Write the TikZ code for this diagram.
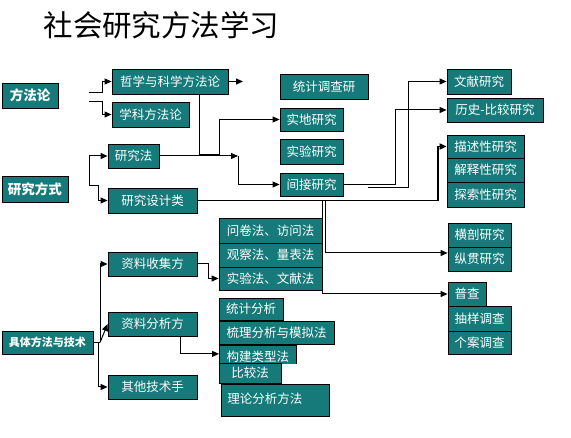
\documentclass[tikz,border=0pt]{standalone}
\usepackage{fontspec}
\setmainfont{Noto Sans CJK SC}
\usetikzlibrary{arrows.meta}
\definecolor{teal1}{RGB}{22,122,122}
\tikzset{
  bx/.style={draw=black, line width=0.8pt, fill=teal1, text=white, inner sep=0pt,
    font=\fontsize{12.5}{14}\selectfont},
  hd/.style={bx, font=\fontsize{13.5}{15}\selectfont\bfseries},
  arr/.style={line width=1pt, -{Triangle[length=7pt,width=6pt]}},
  ln/.style={line width=1pt},
}
\newcommand{\bxat}[6]{\node[#1, minimum width=#4pt, minimum height=#5pt] (#2) at (#3) {#6};}
\begin{document}
\begin{tikzpicture}[x=1pt,y=-1pt]
\useasboundingbox (0,0) rectangle (571,438);
\node[font=\fontsize{29.5}{31}\selectfont] (title) at (161.5,25) {社会研究方法学习};
% left column
\bxat{hd}{ff}{30,95.5}{56}{25}{方法论}
\bxat{hd}{yjfs}{35,189}{66}{26}{研究方式}
\node[hd, font=\fontsize{11}{13}\selectfont\bfseries, minimum width=91pt, minimum height=23pt] (jt) at (47.5,342.5) {具体方法与技术};
% second column
\bxat{bx}{zx}{170,81.5}{116}{25}{哲学与科学方法论}
\bxat{bx}{xk}{150.5,114.5}{77}{25}{学科方法论}
\bxat{bx}{yjf}{133.5,156}{51}{24}{研究法}
\bxat{bx}{sjl}{152.5,200.5}{89}{25}{研究设计类}
\bxat{bx}{zs}{152.5,264}{89}{24}{资料收集方}
\bxat{bx}{zf}{152.5,324}{89}{24}{资料分析方}
\bxat{bx}{qt}{152.5,387}{89}{24}{其他技术手}
% third column
\bxat{bx}{tj}{324,86.5}{88}{25}{统计调查研}
\bxat{bx}{sd}{311.5,119.5}{63}{23}{实地研究}
\bxat{bx}{sy}{311.5,151.5}{63}{25}{实验研究}
\bxat{bx}{jj}{311.5,184.5}{63}{23}{间接研究}
\bxat{bx}{wj}{270.5,230.5}{103}{25}{问卷法、访问法}
\bxat{bx}{gc}{270.5,255}{103}{24}{观察法、量表法}
\bxat{bx}{syf}{270.5,278.5}{103}{23}{实验法、文献法}
\bxat{bx}{tjf}{251,309}{64}{22}{统计分析}
\bxat{bx}{sl}{276.5,332.5}{115}{23}{梳理分析与模拟法}
\begin{scope}
\clip (217,343) rectangle (298,363.5);
\node[bx, minimum width=77pt, minimum height=19pt, anchor=north west] (gj) at (219,345) {\raisebox{-7pt}[0pt][0pt]{构建类型法}};
\end{scope}
\bxat{bx}{bj}{250,373}{62}{20}{比较法}
\node[bx, minimum width=108pt, minimum height=32pt, text width=96pt, align=left, anchor=north west] (ll) at (221,384) {\raisebox{5pt}{理论分析方法}};
% right column
\bxat{bx}{wx}{479,81.5}{64}{25}{文献研究}
\bxat{bx}{ls}{495,110}{96}{24}{历史-比较研究}
\bxat{bx}{ms}{485.5,146.5}{77}{23}{描述性研究}
\bxat{bx}{js}{485.5,170}{77}{24}{解释性研究}
\bxat{bx}{ts}{485.5,194.5}{77}{25}{探索性研究}
\bxat{bx}{hp}{479.5,235}{63}{24}{横剖研究}
\bxat{bx}{zg}{479.5,259}{63}{24}{纵贯研究}
\bxat{bx}{pc}{467,294}{38}{24}{普查}
\bxat{bx}{cy}{479.5,318.5}{63}{25}{抽样调查}
\bxat{bx}{ga}{479.5,342.5}{63}{23}{个案调查}
% free coordinates
\coordinate (ffa) at (89,93);
\coordinate (ffb) at (89,102);
\coordinate (fsa) at (89,186);
\coordinate (zxe) at (243,81.5);
\coordinate (yjfe) at (238,156);
\coordinate (jjb) at (368,187.5);
\coordinate (jtj) at (100,342.5);
% connectors
\draw[arr] (ffa) -- (102,93) |- (zx.west);
\draw[arr] (ffb) -- (102,102) |- (xk.west);
\draw[arr] (fsa) |- (yjf.west);
\draw[arr] (fsa) -- (98,186) |- (sjl.west);
\draw[arr] (zx.east) -- (zxe);
\draw[ln] ([xshift=-29pt]zx.south east) |- (219,155);
\draw[arr] (219,155) |- (sd.west);
\draw[arr] (yjf.east) -- (yjfe);
\draw[arr] (yjfe) |- (jj.west);
\draw[arr] (jj.east) -- (395,184.5) |- (ls.west);
\draw[arr] (jjb) -- (408,187.5) |- (wx.west);
\draw[arr, line width=1.8pt] (sjl.east) -- (438,200.5) |- (ms.west);
\draw[arr] (325,200.5) |- ([yshift=6pt]zg.west);
\draw[arr] (322,200.5) |- (pc.west);
\draw[ln] (jt.east) -- (jtj);
\draw[arr] (jtj) |- (zs.west);
\draw[arr] (jtj) -- (zf.west);
\draw[arr] (98,342.5) |- (qt.west);
\draw[arr] (zs.east) -- (208,264) |- (syf.west);
\draw[arr] ([xshift=-17pt]zf.south east) |- ([yshift=1pt]gj.west);
\end{tikzpicture}
\end{document}
